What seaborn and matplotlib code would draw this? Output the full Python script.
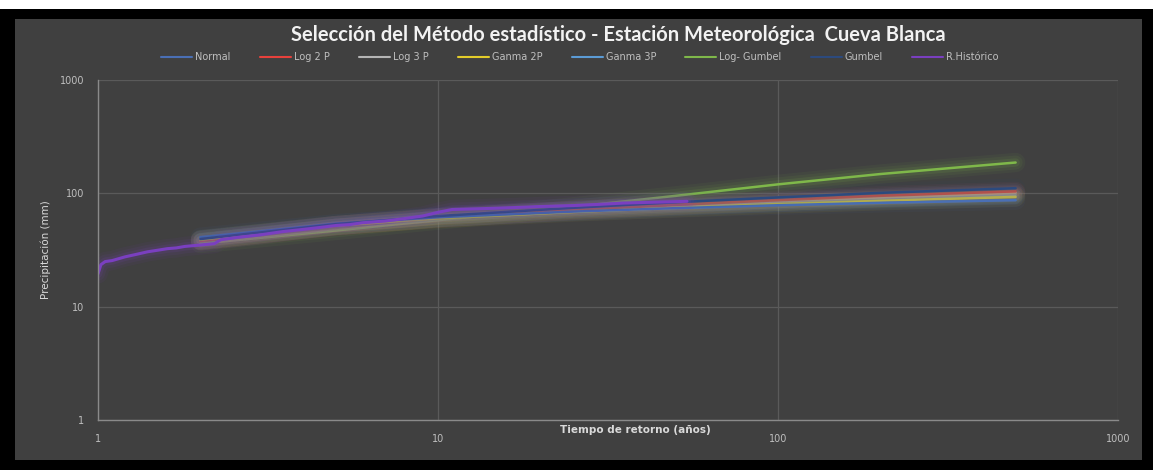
import numpy as np
import pandas as pd
import matplotlib
matplotlib.use("Agg")
import matplotlib.pyplot as plt
import seaborn as sns
from matplotlib.patches import Rectangle
from matplotlib.lines import Line2D

# ---------------- data ----------------
T_fit = [2, 5, 10, 25, 50, 100, 200, 500]
normal = [41, 54, 61.5, 69, 74, 78.5, 82.5, 87]
log2p = [38, 51.5, 60.5, 71, 79, 87, 95, 104]
log3p = [38.5, 52, 61, 70.5, 77.5, 85, 92, 101]
gamma2p = [39, 52, 60, 68.5, 74.5, 80.5, 86, 93]
gamma3p = [38.5, 52, 61, 70, 76.5, 83, 89.5, 97]
loggumbel = [36, 47, 58, 76, 95, 120, 148, 187]
gumbel = [39.5, 53.5, 63, 74.5, 83.5, 92, 101, 111]

T_hist = [1.0, 1.02, 1.05, 1.1, 1.15, 1.2, 1.3, 1.4, 1.5, 1.6, 1.7, 1.8, 2.0, 2.2, 2.3,
          2.6, 3.0, 3.5, 4.0, 4.5, 5.0, 5.5, 6.0, 7.0, 8.0, 9.0, 10.0, 11.0, 13.0, 15.0,
          18.0, 20.0, 25.0, 30.0, 35.0, 40.0, 54.0]
P_hist = [19.5, 23.5, 25, 25.5, 26.5, 27.5, 29, 30.5, 31.5, 32.5, 33, 34, 35, 36, 39,
          41, 43, 46, 48, 50, 52, 53, 55, 57, 60, 63, 68, 72, 73, 74,
          75.5, 76.5, 78, 80, 82, 83, 85]

series_names = ["Normal", "Log 2 P", "Log 3 P", "Ganma 2P", "Ganma 3P",
                "Log- Gumbel", "Gumbel", "R.Histórico"]
colors = ["#4a6fb5", "#e8413c", "#b5b5b5", "#e3cc2a", "#5b9bd5",
          "#7fb84a", "#2c4a7e", "#7a3fc0"]

rows = []
for name, vals in zip(series_names[:7], [normal, log2p, log3p, gamma2p, gamma3p, loggumbel, gumbel]):
    for t, v in zip(T_fit, vals):
        rows.append((name, t, v))
for t, v in zip(T_hist, P_hist):
    rows.append(("R.Histórico", t, v))
df = pd.DataFrame(rows, columns=["serie", "T", "P"])

# ---------------- figure ----------------
sns.set_theme(style="dark")
plt.rcParams["font.family"] = ["DejaVu Sans"]
W, H = 1153, 470
fig = plt.figure(figsize=(W / 100, H / 100), dpi=100)
fig.patch.set_facecolor("black")
fig.patches.append(Rectangle((0, (H - 9) / H), 1, 9 / H, transform=fig.transFigure,
                             facecolor="white", edgecolor="none", zorder=-5))
fig.patches.append(Rectangle((15 / W, (H - 460) / H), (1142 - 15) / W, (460 - 19) / H,
                             transform=fig.transFigure, facecolor="#404040",
                             edgecolor="none", zorder=-5))

ax = fig.add_axes([98 / W, (H - 420) / H, (1118 - 98) / W, (420 - 80) / H])
ax.set_zorder(2)
ax.set_facecolor("#404040")

order = ["Log- Gumbel", "Ganma 3P", "Log 3 P", "Log 2 P",
         "Ganma 2P", "Normal", "Gumbel", "R.Histórico"]
cmap = dict(zip(series_names, colors))
for name in order:
    sub = df[df["serie"] == name]
    c = cmap[name]
    for lw, a in [(14, 0.06), (10, 0.08), (6, 0.12)]:
        sns.lineplot(data=sub, x="T", y="P", ax=ax, color=c, linewidth=lw, alpha=a,
                     legend=False, estimator=None, sort=True, solid_capstyle="round")
    sns.lineplot(data=sub, x="T", y="P", ax=ax, color=c,
                 linewidth=2.2 if name == "R.Histórico" else 1.8,
                 legend=False, estimator=None, sort=True)

ax.set_xscale("log")
ax.set_yscale("log")
ax.set_xlim(1, 1000)
ax.set_ylim(1, 1000)
ax.set_xticks([1, 10, 100, 1000])
ax.set_xticklabels(["1", "10", "100", "1000"])
ax.set_yticks([1, 10, 100, 1000])
ax.set_yticklabels(["1", "10", "100", "1000"])
ax.minorticks_off()
ax.tick_params(axis="both", colors="#bfbfbf", labelsize=7, length=0, pad=10)
ax.grid(True, which="major", color="#5a5a5a", linewidth=0.9)
for s in ["top", "right"]:
    ax.spines[s].set_visible(False)
for s in ["left", "bottom"]:
    ax.spines[s].set_visible(True)
    ax.spines[s].set_color("#8a8a8a")
    ax.spines[s].set_linewidth(1.0)
ax.set_xlabel("")
ax.set_ylabel("Precipitación (mm)", color="#d9d9d9", fontsize=7.5, labelpad=6)

fig.text(635 / W, (H - 430) / H, "Tiempo de retorno (años)", color="#d9d9d9",
         fontsize=7.5, fontweight="bold", ha="center", va="center", zorder=5)
fig.text(618 / W, (H - 35) / H,
         "Selección del Método estadístico - Estación Meteorológica  Cueva Blanca",
         color="#f2f2f2", fontsize=14.5, fontweight="bold", ha="center", va="center",
         family=["Lato", "DejaVu Sans"])

handles = [Line2D([0], [0], color=c, linewidth=1.5) for c in colors]
leg = fig.legend(handles, series_names, loc="center", bbox_to_anchor=(580 / W, (H - 57) / H),
                 ncol=8, frameon=False, fontsize=7, handlelength=3.2, columnspacing=3.0,
                 handletextpad=0.3)
for t in leg.get_texts():
    t.set_color("#bfbfbf")

fig.savefig("out.png", dpi=100, facecolor=fig.get_facecolor())
